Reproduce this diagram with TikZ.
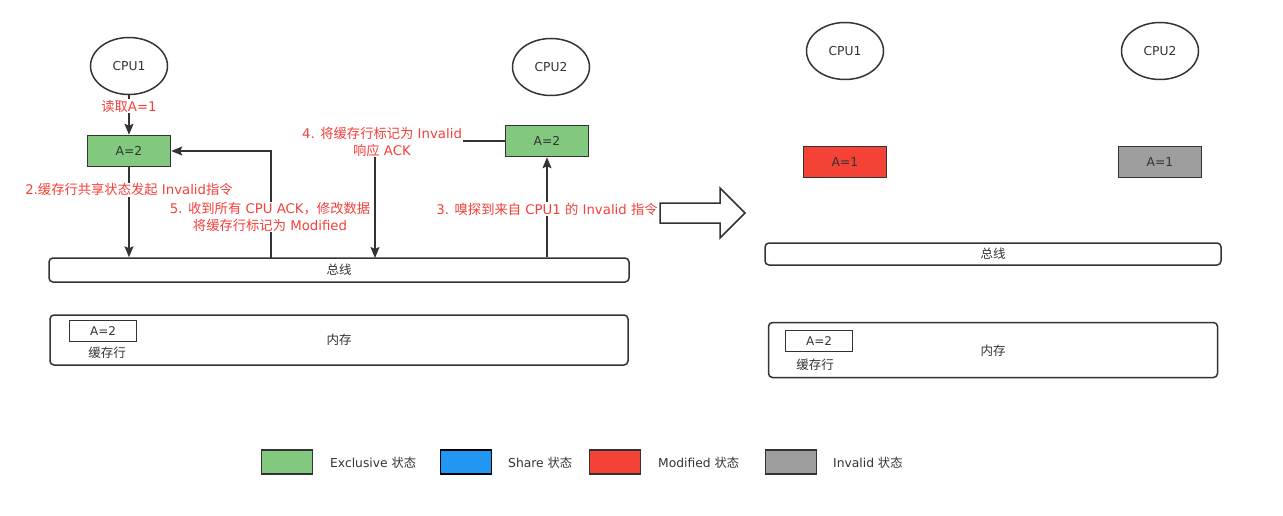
\documentclass[tikz,border=0pt]{standalone}
\usepackage{fontspec}
\setmainfont{DejaVu Sans}
\newfontfamily\cjk{Noto Sans CJK SC}
\usetikzlibrary{arrows.meta,shapes.geometric}
\definecolor{ln}{HTML}{333333}
\definecolor{note}{HTML}{F5403A}
\definecolor{excl}{HTML}{82C97F}
\definecolor{shr}{HTML}{2196F3}
\definecolor{modi}{HTML}{F44336}
\definecolor{inval}{HTML}{9E9E9E}
\newcommand{\zh}[1]{{\cjk #1}}
\begin{document}
\begin{tikzpicture}[x=1pt,y=-1pt,
  cpu/.style={ellipse, draw=ln, line width=1.5pt, minimum width=77pt, minimum height=57pt,
    font=\fontsize{12.3}{14}\selectfont, text=ln},
  cell/.style={draw=ln, line width=1.5pt, minimum width=83pt, minimum height=31pt, inner sep=0pt,
    font=\fontsize{12.3}{14}\selectfont, text=ln},
  bar/.style={draw=ln, line width=1.5pt, rounded corners=4pt, inner sep=0pt,
    font=\fontsize{12.5}{14}\selectfont, text=ln},
  small/.style={draw=ln, line width=1.5pt, minimum width=67pt, minimum height=21pt, inner sep=0pt,
    font=\fontsize{12}{14}\selectfont, text=ln},
  plain/.style={font=\fontsize{12.5}{14}\selectfont, text=ln, inner sep=1pt},
  lbl/.style={text=note, fill=white, align=center, inner sep=1pt,
    font=\fontsize{13.3}{16.5}\selectfont},
  link/.style={draw=ln, line width=1.5pt, -{Stealth[length=11pt,width=9pt,inset=2pt]}},
  key/.style={draw=ln, line width=1.5pt, minimum width=51pt, minimum height=24pt, inner sep=0pt},
  keytext/.style={font=\fontsize{12.3}{14}\selectfont, text=ln, anchor=west, inner sep=0pt}
]
\useasboundingbox (0,0) rectangle (1283,516);

% ---------- before: CPU1 writes while CPU2 shares the line ----------
\node[cpu] (cpu1L) at (129,66) {CPU1};
\node[cpu] (cpu2L) at (551,67) {CPU2};
\node[cell, fill=excl] (aL) at (129,151) {A=2};
\node[cell, fill=excl] (bL) at (547,141) {A=2};
\node[bar, minimum width=580pt, minimum height=24pt] (busL) at (339,270) {\zh{总线}};
\node[bar, minimum width=578pt, minimum height=50pt] (memL) at (339,340) {};
\node[plain] at (339,340) {\zh{内存}};
\node[small] (lineL) at (103,331) {A=2};
\node[plain] (lineLt) at (107,353) {\zh{缓存行}};

\coordinate (b2) at (aL.south |- busL.north);
\coordinate (b5) at (271,258);
\coordinate (b4) at (375,258);
\coordinate (b3) at (bL.south |- busL.north);

\draw[link] (cpu1L) -- (aL) node[lbl, pos=0.28] {\zh{读取}A=1};
\draw[link] (aL) -- (b2) node[lbl, pos=0.25] {2.\zh{缓存行共享状态发起} Invalid\zh{指令}};
\draw[link] (b5) |- (aL.east);
\node[lbl] at (270,217) {5. \zh{收到所有} CPU ACK\zh{，修改数据}\\\zh{将缓存行标记为} Modified};
\draw[link] (bL.west) -| (b4);
\node[lbl] at (382,142) {4. \zh{将缓存行标记为} Invalid\\\zh{响应} ACK};
\draw[link] (b3) -- (bL) node[lbl, pos=0.48] {3. \zh{嗅探到来自} CPU1 \zh{的} Invalid \zh{指令}};

% ---------- transition ----------
\draw[draw=ln, line width=1.5pt, fill=white]
  (660,203) -- (720,203) -- (720,188) -- (745,213) -- (720,238) -- (720,223) -- (660,223) -- cycle;

% ---------- after: CPU1 modified, CPU2 invalid ----------
\node[cpu] (cpu1R) at (845,51) {CPU1};
\node[cpu] (cpu2R) at (1160,51) {CPU2};
\node[cell, fill=modi] (aR) at (845,162) {A=1};
\node[cell, fill=inval] (bR) at (1160,162) {A=1};
\node[bar, minimum width=456pt, minimum height=22pt] (busR) at (993,254) {\zh{总线}};
\node[bar, minimum width=449pt, minimum height=55pt] (memR) at (993,350) {};
\node[plain] at (993,351) {\zh{内存}};
\node[small] (lineR) at (819,341) {A=2};
\node[plain] (lineRt) at (815,365) {\zh{缓存行}};

% ---------- legend ----------
\node[key, fill=excl] (k1) at (287,462) {};
\node[keytext] at (330,463) {Exclusive \zh{状态}};
\node[key, fill=shr, draw=black] (k2) at (466,462) {};
\node[keytext] at (508,463) {Share \zh{状态}};
\node[key, fill=modi] (k3) at (615,462) {};
\node[keytext] at (658,463) {Modified \zh{状态}};
\node[key, fill=inval] (k4) at (791,462) {};
\node[keytext] at (833,463) {Invalid \zh{状态}};
\end{tikzpicture}
\end{document}
